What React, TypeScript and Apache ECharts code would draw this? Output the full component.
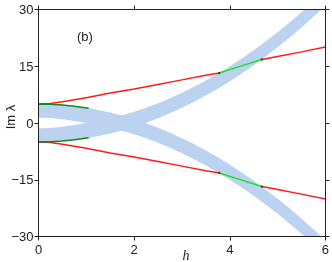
import React, { useEffect, useRef } from 'react';
import * as echarts from 'echarts';

// h sample points for the spectral bands
const hGrid = [0, 0.25, 0.5, 0.75, 1, 1.25, 1.5, 1.75, 2, 2.25, 2.5, 2.75, 3, 3.25, 3.5, 3.75, 4, 4.25, 4.5, 4.75, 5, 5.25, 5.5, 5.75, 6];
// rising band (lower / upper edges)
const riseLower = [-5, -4.94, -4.75, -4.44, -4, -3.44, -2.75, -1.94, -1, 0.06, 1.25, 2.56, 4, 5.56, 7.25, 9.06, 11, 13.06, 15.25, 17.56, 20, 22.56, 25.25, 28.06, 31];
const riseUpper = [-1.4, -1.3, -1.0, -0.55, 0, 0.56, 1.25, 2.06, 3, 4.06, 5.25, 6.56, 8, 9.56, 11.25, 13.06, 15, 17.06, 19.25, 21.56, 24, 26.56, 29.25, 32.06, 35];
// falling band (lower / upper edges)
const fallLower = [1.4, 1.3, 1.0, 0.55, 0, -0.56, -1.25, -2.06, -3, -4.06, -5.25, -6.56, -8, -9.56, -11.25, -13.06, -15, -17.06, -19.25, -21.56, -24, -26.56, -29.25, -32.06, -35];
const fallUpper = [5, 4.94, 4.75, 4.44, 4, 3.44, 2.75, 1.94, 1, -0.06, -1.25, -2.56, -4, -5.56, -7.25, -9.06, -11, -13.06, -15.25, -17.56, -20, -22.56, -25.25, -28.06, -31];

// red eigenvalue branch (upper), left part
const redLeftH = [0, 0.25, 0.5, 0.75, 1, 1.5, 2, 2.5, 3, 3.5, 3.78];
const redLeftV = [5.0, 5.15, 5.6, 6.15, 6.7, 7.9, 9.0, 10.2, 11.4, 12.6, 13.2];
// green segment inside band
const greenH = [3.78, 4.2, 4.67];
const greenV = [13.2, 14.9, 16.8];
// red right part
const redRightH = [4.67, 5.0, 5.5, 6.0];
const redRightV = [16.8, 17.6, 18.8, 20.1];
// dark green branch along band edge
const dkGreenH = [0, 0.25, 0.5, 0.75, 1.05];
const dkGreenV = [5, 4.94, 4.75, 4.44, 3.9];

const xTicks = [0, 2, 4, 6];
const yTicks = [-30, -15, 0, 15, 30];

const BAND = '#bbd3f1';
const RED = '#ff1a1a';
const GREEN = '#19e619';
const DKGREEN = '#138a13';
const AX = '#222222';
const FONT = "'Liberation Sans', Arial, sans-serif";

const zip = (a: number[], b: number[], sign = 1) => a.map((h, i) => [h, sign * b[i]]);

const fmt = (v: number) => (v < 0 ? '\u2212' + Math.abs(v) : String(v));

type Pt = number[];
function clipEdge(pts: Pt[], inside: (p: Pt) => boolean, cross: (a: Pt, b: Pt) => Pt): Pt[] {
  const out: Pt[] = [];
  for (let i = 0; i < pts.length; i++) {
    const cur = pts[i];
    const prev = pts[(i + pts.length - 1) % pts.length];
    const ci = inside(cur);
    const pi = inside(prev);
    if (ci) {
      if (!pi) out.push(cross(prev, cur));
      out.push(cur);
    } else if (pi) {
      out.push(cross(prev, cur));
    }
  }
  return out;
}
function clipRect(pts: Pt[], x0: number, y0: number, x1: number, y1: number): Pt[] {
  const atX = (x: number) => (a: Pt, b: Pt) => [x, a[1] + ((b[1] - a[1]) * (x - a[0])) / (b[0] - a[0])];
  const atY = (y: number) => (a: Pt, b: Pt) => [a[0] + ((b[0] - a[0]) * (y - a[1])) / (b[1] - a[1]), y];
  let r = pts;
  r = clipEdge(r, (p) => p[0] >= x0 - 0.01, atX(x0));
  if (r.length) r = clipEdge(r, (p) => p[0] <= x1 + 0.01, atX(x1));
  if (r.length) r = clipEdge(r, (p) => p[1] >= y0, atY(y0));
  if (r.length) r = clipEdge(r, (p) => p[1] <= y1, atY(y1));
  return r;
}

function lineSeries(data: number[][], color: string, width = 1.5, z = 3) {
  return {
    type: 'line',
    data,
    symbol: 'none',
    smooth: false,
    lineStyle: { color, width },
    z,
    silent: true,
  };
}

export default function App() {
  const ref = useRef<HTMLDivElement>(null);
  useEffect(() => {
    const chart = echarts.init(ref.current!, null, { renderer: 'svg' });
    const axisCommon = {
      type: 'value',
      axisLine: { show: true, onZero: false, lineStyle: { color: AX, width: 1 } },
      axisTick: { show: true, inside: false, length: 4, lineStyle: { color: AX, width: 1 } },
      splitLine: { show: false },
      z: 5,
    };
    const option: any = {
      animation: false,
      grid: { left: 38.5, right: 6.5, top: 9.5, bottom: 25.5, containLabel: false },
      xAxis: [
        {
          ...axisCommon,
          position: 'bottom',
          min: xTicks[0],
          max: xTicks[xTicks.length - 1],
          interval: 2,
          axisLabel: { fontSize: 13, color: AX, fontFamily: FONT, margin: 6, formatter: fmt },
        },
        {
          ...axisCommon,
          position: 'top',
          min: xTicks[0],
          max: xTicks[xTicks.length - 1],
          interval: 2,
          axisLabel: { show: false },
        },
      ],
      yAxis: [
        {
          ...axisCommon,
          position: 'left',
          min: yTicks[0],
          max: yTicks[yTicks.length - 1],
          interval: 15,
          axisLabel: { fontSize: 13, color: AX, fontFamily: FONT, margin: 5, formatter: fmt },
        },
        {
          ...axisCommon,
          position: 'right',
          min: yTicks[0],
          max: yTicks[yTicks.length - 1],
          interval: 15,
          axisLabel: { show: false },
        },
      ],
      series: [
        lineSeries(zip(redLeftH, redLeftV), RED),
        lineSeries(zip(redLeftH, redLeftV, -1), RED),
        lineSeries(zip(dkGreenH, dkGreenV), DKGREEN, 1.6, 4),
        lineSeries(zip(dkGreenH, dkGreenV, -1), DKGREEN, 1.6, 4),
        lineSeries(zip(greenH, greenV), GREEN),
        lineSeries(zip(greenH, greenV, -1), GREEN),
        lineSeries(zip(redRightH, redRightV), RED),
        lineSeries(zip(redRightH, redRightV, -1), RED),
        {
          type: 'scatter',
          symbolSize: 2.5,
          itemStyle: { color: '#333' },
          z: 5,
          silent: true,
          data: [
            [greenH[0], greenV[0]],
            [greenH[greenH.length - 1], greenV[greenV.length - 1]],
            [greenH[0], -greenV[0]],
            [greenH[greenH.length - 1], -greenV[greenV.length - 1]],
          ],
        },
      ],
    };
    chart.setOption(option);

    const finder = { xAxisIndex: 0, yAxisIndex: 0 };
    const toPx = (h: number, v: number) => chart.convertToPixel(finder as any, [h, v]) as number[];
    const tl = toPx(xTicks[0], yTicks[yTicks.length - 1]);
    const br = toPx(xTicks[xTicks.length - 1], yTicks[0]);
    const band = (lo: number[], up: number[]) => {
      const pts: Pt[] = [];
      hGrid.forEach((h, i) => pts.push(toPx(h, up[i])));
      for (let i = hGrid.length - 1; i >= 0; i--) pts.push(toPx(hGrid[i], lo[i]));
      return clipRect(pts, tl[0], tl[1], br[0], br[1]);
    };

    chart.setOption({
      graphic: {
        elements: [
          { type: 'polygon', z: 1, silent: true, shape: { points: band(riseLower, riseUpper) }, style: { fill: BAND } },
          { type: 'polygon', z: 1, silent: true, shape: { points: band(fallLower, fallUpper) }, style: { fill: BAND } },
          {
            type: 'rect',
            z: 2,
            silent: true,
            shape: { x: 0, y: 0, width: Math.max(0, tl[0] - 0.5), height: 262 },
            style: { fill: '#ffffff' },
          },
          {
            type: 'text',
            z: 10,
            left: 77,
            top: 30,
            style: { text: '(b)', fontSize: 13, fontFamily: FONT, fill: AX },
          },
          {
            type: 'text',
            z: 10,
            x: 10,
            y: 117,
            rotation: Math.PI / 2,
            style: { text: 'Im \u03bb', fontSize: 13, fontFamily: FONT, fill: AX, align: 'center', verticalAlign: 'middle' },
          },
          {
            type: 'text',
            z: 10,
            x: 186,
            y: 255,
            style: {
              text: 'h',
              fontSize: 14,
              fontStyle: 'italic',
              fontFamily: "'Liberation Serif', 'Times New Roman', serif",
              fill: AX,
              align: 'center',
              verticalAlign: 'middle',
            },
          },
        ],
      },
    });
    return () => chart.dispose();
  }, []);
  return <div ref={ref} style={{ position: 'fixed', left: 0, top: 0, width: 332, height: 262 }} />;
}
